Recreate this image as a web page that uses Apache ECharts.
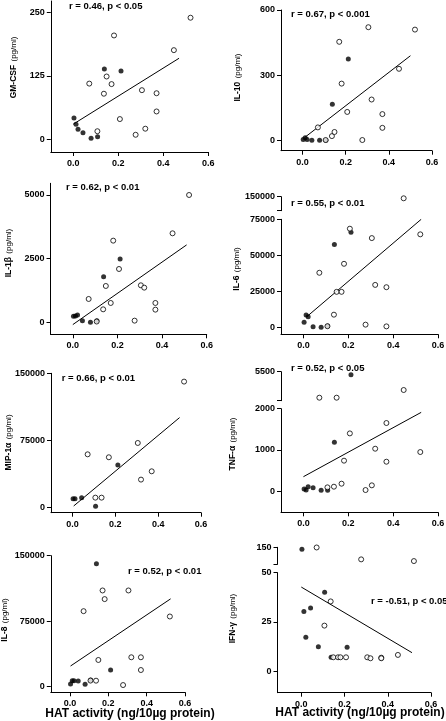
<!DOCTYPE html>
<html>
<head>
<meta charset="utf-8">
<script src="https://cdn.jsdelivr.net/npm/echarts@6/dist/echarts.min.js"></script>
<style>
html,body{margin:0;padding:0;background:#fff;}
#chart{width:446px;height:721px;}
</style>
</head>
<body>
<div id="chart"></div>
<script>
// HAT activity (ng/10µg protein) of each subject: filled-symbol group and open-symbol group
const hatFilled = [0.003, 0.012, 0.021, 0.043, 0.079, 0.108, 0.138, 0.212];
const hatOpen   = [0.071, 0.107, 0.136, 0.148, 0.170, 0.181, 0.207, 0.277, 0.305, 0.320, 0.370, 0.370, 0.447, 0.521];

// cytokine values (pg/ml), aligned with hatFilled / hatOpen (null = not measured)
const gmcsfFilled = [42, 30, 20, 13, 2, 5, 139, 135];
const gmcsfOpen   = [110, 16, 90, 124, 109, 205, 40, 9, 97, 21, 91, 55, 176, 240];
const il10Filled  = [5, 14, 5, 2, 2, 2, 167, 375];
const il10Open    = [61, 3, 21, 40, 454, 262, 132, 3, 521, 189, 122, 59, 330, 510];
const il1bFilled  = [235, 250, 290, 65, 0, 65, 1793, 2487];
const il1bOpen    = [916, 30, 510, 1427, 759, 3207, 2094, 65, 1453, 1361, 759, 497, 3495, 5000];
const il6Filled   = [3700, 8800, 7600, 700, 230, 1200, 57600, 66000];
const il6Open     = [38000, 1000, 9000, 24800, 24800, 44200, 68500, 2100, 62000, 29600, 28000, 900, 141400, 64600];
const mip1aFilled = [9700, 9700, null, 10800, null, 1100, null, 47400];
const mip1aOpen   = [59300, 10800, 10800, null, 56000, null, null, null, 72000, 31000, 40300, null, null, 140700];
const tnfaFilled  = [49, 24, 105, 81, 16, 16, 1182, 5138];
const tnfaOpen    = [2362, 89, 105, 2362, 178, 737, 1400, 24, 138, 1028, 1652, 712, 3290, 947];
const il8Filled   = [3100, 6900, 6900, 6500, 2700, 7700, 140800, 19100];
const il8Open     = [86500, 7000, 6900, 30600, 110200, 100300, 150400, 1900, 110200, 33700, 33700, 19100, null, 80400];
const ifngFilled  = [138, 30.3, 17.2, 32.1, 12.4, 40.1, 7.0, 12.1];
const ifngOpen    = [149, 23.1, 35.4, 7.0, 7.0, 7.0, 7.0, 79, 7.0, 6.5, 6.8, 6.5, 8.2, 69];

// regression lines: [x0, x1] and [y0, y1]
const gmcsfFitX = [0, 0.47],   gmcsfFitY = [30, 160];
const il10FitX  = [0.01, 0.50], il10FitY = [15, 390];
const il1bFitX  = [0, 0.51],   il1bFitY  = [-90, 3040];
const il6FitX   = [0.015, 0.525], il6FitY = [7600, 75000];
const mip1aFitX = [0.006, 0.50], mip1aFitY = [1500, 100400];
const tnfaFitX  = [0, 0.525],  tnfaFitY  = [348, 1911];
const il8FitX   = [0.003, 0.525], il8FitY = [23700, 100600];
const ifngFitX  = [0, 0.512],  ifngFitY  = [42.7, 9.35];

// tick labels
const xTicks = [0, 0.2, 0.4, 0.6];
const gmcsfTicks = [0, 125, 250];
const il10Ticks  = [0, 300, 600];
const il1bTicks  = [0, 2500, 5000];
const il6Ticks   = [0, 25000, 50000, 75000], il6UpperTicks = [150000];
const mip1aTicks = [0, 75000, 150000];
const tnfaTicks  = [0, 1000, 2000], tnfaUpperTicks = [5500];
const il8Ticks   = [0, 75000, 150000];
const ifngTicks  = [0, 25, 50], ifngUpperTicks = [150];

// texts
const stats = ['r = 0.46, p < 0.05','r = 0.67, p < 0.001','r = 0.62, p < 0.01','r = 0.55, p < 0.01',
               'r = 0.66, p < 0.01','r = 0.52, p < 0.05','r = 0.52, p < 0.01','r = -0.51, p < 0.05'];
const names = ['GM-CSF','IL-10','IL-1β','IL-6','MIP-1α','TNF-α','IL-8','IFN-γ'];
const unit = '(pg/ml)';
const xTitle = 'HAT activity (ng/10µg protein)';

// ---------- layout (positions / styles) ----------
const FONT = 'Liberation Sans, Arial, Helvetica, sans-serif';
const panels = [
  {filled: gmcsfFilled, open: gmcsfOpen, fx: gmcsfFitX, fy: gmcsfFitY, ticks: gmcsfTicks,
   left: 50.8, width: 157.5, xmin: -0.1, low: {top: 1, h: 151, min: -25, max: 273},
   stat: [69, 6], title: [13.3, 67.5]},
  {filled: il10Filled, open: il10Open, fx: il10FitX, fy: il10FitY, ticks: il10Ticks,
   left: 281, width: 151, xmin: -0.1, low: {top: 10, h: 140.7, min: -46, max: 600},
   stat: [291, 14.3], title: [238, 77.5]},
  {filled: il1bFilled, open: il1bOpen, fx: il1bFitX, fy: il1bFitY, ticks: il1bTicks,
   left: 50.5, width: 156.2, xmin: -0.1, low: {top: 183.3, h: 151, min: -471, max: 5459},
   stat: [66, 187.3], title: [8.3, 253]},
  {filled: il6Filled, open: il6Open, fx: il6FitX, fy: il6FitY, ticks: il6Ticks,
   left: 281, width: 157, xmin: -0.1, low: {top: 219.3, h: 115, min: -4583, max: 75000},
   up: {top: 196.7, h: 14, min: 75000, max: 150000, ticks: il6UpperTicks},
   stat: [291, 203.3], title: [236.3, 269]},
  {filled: mip1aFilled, open: mip1aOpen, fx: mip1aFitX, fy: mip1aFitY, ticks: mip1aTicks,
   left: 51, width: 150, xmin: -0.1, low: {top: 373.3, h: 139.4, min: -6045, max: 150000},
   stat: [61.7, 378.3], title: [8.3, 442.5]},
  {filled: tnfaFilled, open: tnfaOpen, fx: tnfaFitX, fy: tnfaFitY, ticks: tnfaTicks,
   left: 281, width: 157, xmin: -0.1, low: {top: 408.7, h: 103.6, min: -517, max: 2000},
   up: {top: 371.7, h: 29, min: 2000, max: 5500, ticks: tnfaUpperTicks},
   stat: [291, 368.3], title: [233, 444]},
  {filled: il8Filled, open: il8Open, fx: il8FitX, fy: il8FitY, ticks: il8Ticks,
   left: 50.8, width: 134.2, xmin: -0.1, low: {top: 555.7, h: 136.6, min: -6400, max: 150000},
   stat: [128, 571], title: [5, 620], xt: [130, 714]},
  {filled: ifngFilled, open: ifngOpen, fx: ifngFitX, fy: ifngFitY, ticks: ifngTicks,
   left: 277.5, width: 153.5, xmin: -0.11, low: {top: 572.7, h: 120, min: -11, max: 50},
   up: {top: 547.3, h: 17, min: 50, max: 150, ticks: ifngUpperTicks},
   stat: [371, 601.7], title: [233, 618.5], xt: [360, 713]}
];

const grid = [], xAxis = [], yAxis = [], series = [], graphic = [];
const axisLineStyle = {color: '#000', width: 1};
const labelStyle = {fontFamily: FONT, fontWeight: 'bold', fontSize: 9, color: '#000'};

function pairs(xs, ys, keep) {
  const out = [];
  xs.forEach((x, i) => { const y = ys[i]; if (y != null && keep(y)) out.push([x, y]); });
  return out;
}

function addGrid(p, seg, showX, idx) {
  grid.push({left: p.left, top: seg.top, width: p.width, height: seg.h,
             containLabel: false, outerBoundsMode: 'none'});
  xAxis.push({gridIndex: idx, type: 'value', min: p.xmin, max: 0.6, show: showX,
    axisLine: {show: true, onZero: false, lineStyle: axisLineStyle},
    axisTick: {show: true, length: 4, inside: false, customValues: xTicks, lineStyle: axisLineStyle},
    axisLabel: Object.assign({customValues: xTicks, margin: 7, formatter: v => v.toFixed(1)}, labelStyle),
    splitLine: {show: false}});
  const tickVals = seg.ticks ? [seg.min].concat(seg.ticks) : p.ticks;
  const labVals = seg.ticks ? seg.ticks : p.ticks;
  yAxis.push({gridIndex: idx, type: 'value', min: seg.min, max: seg.max,
    axisLine: {show: true, onZero: false, lineStyle: axisLineStyle},
    axisTick: {show: true, length: 4, inside: false, customValues: tickVals, lineStyle: axisLineStyle},
    axisLabel: Object.assign({customValues: labVals, margin: 6, formatter: v => String(v)}, labelStyle),
    splitLine: {show: false}});
}

panels.forEach((p, k) => {
  const li = grid.length;
  addGrid(p, p.low, true, li);
  const lowMax = p.low.max;
  const inLow = y => !p.up || y <= lowMax;
  series.push({type: 'line', xAxisIndex: li, yAxisIndex: li, silent: true, symbol: 'none',
    lineStyle: {color: '#000', width: 1}, data: p.fx.map((x, i) => [x, p.fy[i]]), z: 1});
  const addPts = (gi, keep) => {
    series.push({type: 'scatter', xAxisIndex: gi, yAxisIndex: gi, symbol: 'circle', symbolSize: 5,
      itemStyle: {color: '#000'}, data: pairs(hatFilled, p.filled, keep), z: 3});
    series.push({type: 'scatter', xAxisIndex: gi, yAxisIndex: gi, symbol: 'circle', symbolSize: 5,
      itemStyle: {color: '#fff', borderColor: '#000', borderWidth: 1}, data: pairs(hatOpen, p.open, keep), z: 4});
  };
  addPts(li, inLow);
  if (p.up) {
    const ui = grid.length;
    addGrid(p, p.up, false, ui);
    addPts(ui, y => y > lowMax);
  }
  graphic.push({type: 'text', x: p.stat[0], y: p.stat[1],
    style: {text: stats[k], fill: '#000', font: 'bold 9.5px ' + FONT, align: 'left', verticalAlign: 'middle'}});
  graphic.push({type: 'text', x: p.title[0], y: p.title[1], rotation: Math.PI / 2,
    style: {text: '{a|' + names[k] + '} {b|' + unit + '}', fill: '#000', align: 'center', verticalAlign: 'middle',
      rich: {a: {fontFamily: FONT, fontWeight: 'bold', fontSize: 8.5, fill: '#000'},
             b: {fontFamily: FONT, fontWeight: 'normal', fontSize: 8, fill: '#000'}}}});
  if (p.xt) {
    graphic.push({type: 'text', x: p.xt[0], y: p.xt[1],
      style: {text: xTitle, fill: '#000', font: 'bold 12px ' + FONT, align: 'center', verticalAlign: 'middle'}});
  }
});

const chart = echarts.init(document.getElementById('chart'), null, {renderer: 'canvas'});
chart.setOption({backgroundColor: '#fff', animation: false, grid, xAxis, yAxis, series, graphic});
</script>
</body>
</html>
